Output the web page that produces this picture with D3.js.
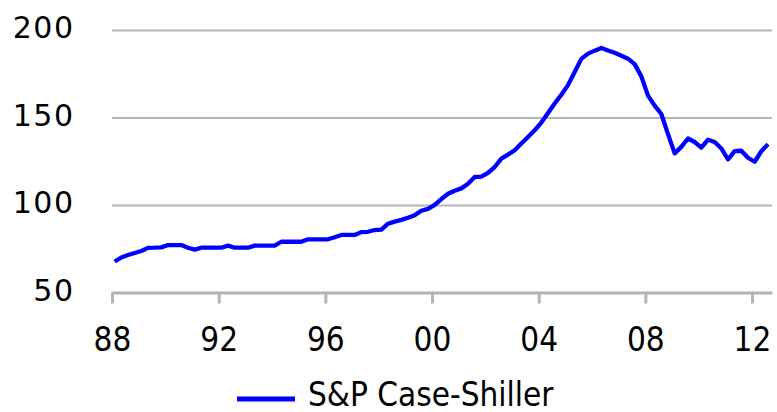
<!DOCTYPE html>
<html>
<head>
<meta charset="utf-8">
<script src="https://cdn.jsdelivr.net/npm/d3@7"></script>
<style>
  body { margin: 0; background: #fff; }
  text { font-family: "DejaVu Sans", Verdana, sans-serif; fill: #000; }
</style>
</head>
<body>
<div id="chart"></div>
<script>
///////////////////// Data ////////////////////////
// S&P Case-Shiller national index, quarterly 1988Q1 - 2012Q3
var firstQuarter = 1988;
var caseShiller = [
  67.7, 70.0, 71.4, 72.6, 73.7, 75.5, 75.6, 75.8, 77.1, 77.1,
  77.1, 75.6, 74.5, 75.6, 75.6, 75.6, 75.6, 76.8, 75.6, 75.6,
  75.6, 76.8, 76.8, 76.8, 76.8, 79.0, 79.0, 79.0, 79.0, 80.4,
  80.4, 80.4, 80.4, 81.6, 82.9, 82.9, 82.9, 84.5, 84.7, 85.7,
  85.9, 89.3, 90.5, 91.5, 92.7, 94.2, 96.7, 97.8, 100.1, 103.4,
  106.4, 108.1, 109.5, 112.1, 116.0, 116.2, 118.3, 121.7, 126.5, 128.8,
  131.3, 135.1, 138.9, 142.7, 147.1, 152.6, 158.0, 163.0, 168.5, 176.0,
  183.5, 186.5, 188.2, 189.7, 188.3, 187.0, 185.3, 183.6, 180.5, 173.5,
  162.5, 156.8, 152.0, 140.5, 129.5, 133.2, 138.0, 136.0, 132.8, 137.3,
  136.0, 132.3, 126.0, 130.8, 131.0, 127.0, 124.7, 130.7, 134.8
];
var xTicks = [1988, 1992, 1996, 2000, 2004, 2008, 2012];
var yTicks = [50, 100, 150, 200];
var seriesName = "S&P Case-Shiller";

// quarter dates, plotted mid-quarter-ish like the source
var data = caseShiller.map(function (v, i) {
  return { t: firstQuarter + 0.1 + i * 0.25, v: v };
});

///////////////////// Layout ////////////////////////
var width = 777, height = 412;
var plotLeft = 112, plotRight = 772, plotTop = 30, plotBottom = 292.5;

var svg = d3.select("#chart").append("svg")
  .attr("width", width)
  .attr("height", height);

var x = d3.scaleLinear().domain([1988, 2012.75]).range([plotLeft, plotRight]);
var y = d3.scaleLinear().domain([50, 200]).range([plotBottom, plotTop]);

// gridlines + y labels
var yAxis = svg.append("g")
  .attr("transform", "translate(" + plotLeft + ",0)")
  .call(d3.axisLeft(y).tickValues(yTicks).tickSizeInner(-(plotRight - plotLeft)).tickSizeOuter(0).tickPadding(37.5));
yAxis.select(".domain").remove();
yAxis.selectAll(".tick line")
  .attr("stroke", "#b5b5b5")
  .attr("stroke-width", 2);
yAxis.selectAll(".tick text")
  .attr("dy", 7.5)
  .style("font-size", "30px")
  .style("letter-spacing", "1.5px")
  .style("fill", "#000");

// x axis
var xAxis = svg.append("g")
  .attr("transform", "translate(0," + plotBottom + ")")
  .call(d3.axisBottom(x).tickValues(xTicks).tickSizeInner(11).tickSizeOuter(0)
    .tickFormat(function (d) { return d3.format("02d")(d % 100); }));
xAxis.select(".domain")
  .attr("stroke", "#b3b3b3")
  .attr("stroke-width", 3);
xAxis.selectAll(".tick line")
  .attr("stroke", "#b3b3b3")
  .attr("stroke-width", 3);
xAxis.selectAll(".tick text")
  .attr("y", 58.5)
  .attr("dy", 0)
  .attr("transform", "scale(0.9,1)")
  .style("font-size", "33px")
  .style("fill", "#000");

// the series
var line = d3.line()
  .x(function (d) { return x(d.t); })
  .y(function (d) { return y(d.v); });

svg.append("path")
  .datum(data)
  .attr("d", line)
  .attr("fill", "none")
  .attr("stroke", "#0000ff")
  .attr("stroke-width", 4.3)
  .attr("stroke-linejoin", "round");

// legend
var legend = svg.append("g").attr("transform", "translate(237,399)");
legend.append("line")
  .attr("x1", 0).attr("x2", 58)
  .attr("y1", 0).attr("y2", 0)
  .attr("stroke", "#0000ff")
  .attr("stroke-width", 5);
legend.append("g")
  .attr("transform", "translate(71,7) scale(0.9,1)")
  .append("text")
  .style("font-size", "33px")
  .text(seriesName);
</script>
</body>
</html>
